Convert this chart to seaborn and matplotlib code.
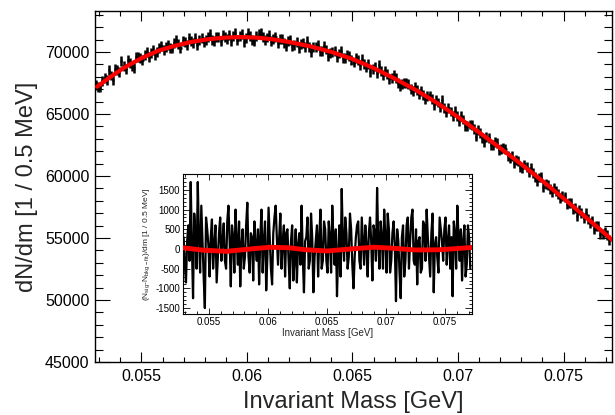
import numpy as np
import matplotlib
matplotlib.use("Agg")
import matplotlib.pyplot as plt
import seaborn as sns
from matplotlib.ticker import MultipleLocator, FuncFormatter

# histogram counts, bins of 0.1 MeV from 0.0528 to 0.0772 GeV
counts = [
    67305, 67185, 67150, 67645, 67910, 67720, 68545, 68100, 67740, 68610,
    68550, 68350, 69235, 68845, 68630, 69320, 69100, 68880, 68695, 69595,
    69585, 69530, 69335, 69755, 69985, 69625, 69910, 70160, 69725, 70020,
    70290, 70480, 70145, 70370, 70580, 70295, 70275, 70740, 70925, 70650,
    70285, 70870, 70805, 70530, 71130, 70880, 70705, 71115, 70565, 70960,
    71125, 70805, 70935, 71235, 71455, 70990, 70870, 71240, 71220, 70850,
    71395, 71195, 71060, 71345, 70860, 71285, 71540, 70985, 71270, 71440,
    70825, 71110, 71540, 71275, 70985, 70840, 71290, 71410, 71495, 71195,
    70935, 71165, 71355, 70845, 71070, 71180, 70700, 71055, 71060, 70755,
    70480, 70870, 70975, 70450, 70590, 70835, 70325, 70625, 70695, 70380,
    70870, 70375, 70020, 70430, 70420, 70550, 70050, 70075, 70450, 70195,
    69660, 69925, 70015, 70100, 69585, 69875, 70065, 69485, 69495, 69790,
    69665, 69315, 69145, 69525, 69315, 68930, 69450, 69060, 68780, 69025,
    68355, 68660, 68825, 68285, 68980, 68430, 68170, 68470, 68245, 67845,
    67865, 68165, 67935, 67530, 67225, 67410, 67495, 67510, 67450, 67005,
    66845, 67200, 66895, 66580, 66830, 66555, 66170, 66450, 66490, 66180,
    65725, 66105, 65925, 65565, 66095, 65510, 65150, 65455, 65200, 64805,
    65215, 64850, 64415, 64815, 64555, 64050, 64030, 64150, 64135, 63805,
    63180, 63695, 63465, 63060, 62700, 63115, 63095, 62515, 62525, 62710,
    62655, 62075, 62190, 62270, 62210, 61625, 61460, 61645, 61025, 61280,
    61185, 60740, 60640, 60925, 60755, 60305, 60625, 60245, 59935, 59625,
    59875, 59915, 59075, 59355, 59285, 58970, 58690, 59040, 58795, 58550,
    58235, 58375, 58335, 57770, 57835, 57830, 57300, 57435, 56765, 57285,
    57035, 56575, 56990, 56565, 56210, 56345, 55745, 55950, 55945, 55345,
    55305, 55510, 55260, 54835,
]

# half height of the error bars
count_err = 400

# residuals (data - background fit) shown in the inset
residuals = [
    300, -400, -850, 200, 600, -300, 1700, 100, -1250, 900,
    400, -500, 1700, 300, -600, 1100, 200, -700, -1500, 800,
    500, 100, -700, 300, 750, -500, 100, 600, -850, -200,
    400, 800, -300, 200, 650, -300, -500, 700, 1100, 200,
    -950, 600, 300, -600, 1000, 200, -400, 700, -950, 100,
    500, -500, -200, 600, 1175, -200, -600, 400, 300, -800,
    700, 100, -300, 500, -900, 300, 1000, -600, 200, 700,
    -1050, -200, 1050, 300, -500, -900, 400, 800, 1100, 300,
    -400, 300, 900, -500, 200, 600, -700, 400, 500, -300,
    -1000, 200, 600, -800, -300, 500, -850, 100, 400, -400,
    1100, -200, -1100, 200, 300, 800, -500, -300, 900, 300,
    -1100, -200, 200, 600, -700, 300, 1000, -500, -300, 700,
    500, -300, -600, 700, 300, -600, 1100, 200, -400, 500,
    -1200, -100, 600, -700, 1525, 200, -300, 800, 400, -500,
    -200, 900, 500, -400, -1000, -200, 300, 600, 700, -300,
    -500, 800, 200, -400, 600, 100, -700, 400, 800, 200,
    -800, 600, 400, -300, 1550, 200, -500, 700, 300, -500,
    1000, 300, -600, 900, 500, -600, -300, 400, 700, 100,
    -1325, 500, 200, -600, -1250, 300, 600, -700, -300, 600,
    800, -500, 200, 800, 1000, -300, -400, 500, -900, 200,
    300, -600, -500, 700, 600, -300, 1000, 300, -200, -700,
    400, 900, -1100, 100, 300, -200, -600, 800, 500, 200,
    -300, 500, 800, -400, 200, 600, -500, 300, -1200, 700,
    400, -500, 1100, 300, -300, 500, -800, 200, 600, -700,
    -400, 600, 300, -500,
]

# background fit curve (red)
fit_mass = [0.0529, 0.0535, 0.0542, 0.0550, 0.0558, 0.0566, 0.0574, 0.0582,
            0.0589, 0.0597, 0.0605, 0.0613, 0.0620, 0.0630, 0.0640, 0.0650,
            0.0660, 0.0670, 0.0680, 0.0690, 0.0700, 0.0710, 0.0720, 0.0730,
            0.0740, 0.0750, 0.0760, 0.0770, 0.0773]
fit_vals = [67200, 67950, 68750, 69500, 70100, 70500, 70820, 71030,
            71150, 71200, 71150, 71000, 70800, 70450, 70000, 69430,
            68700, 67850, 66930, 65900, 64750, 63520, 62250, 60950,
            59600, 58200, 56750, 55300, 54850]

# fit to the residuals (red, inset)
rfit_mass = [0.0528, 0.0545, 0.0565, 0.0585, 0.0602, 0.0618, 0.0632, 0.0650,
             0.0670, 0.0690, 0.0705, 0.0725, 0.0745, 0.0760, 0.0773]
rfit_vals = [30, -30, -60, 0, 45, 30, -20, -50, 0, 45, 20, -25, -20, 10, 40]

mass = np.linspace(0.05285, 0.07715, len(counts))

sns.set_style("ticks")
plt.rcParams['font.family'] = ['Liberation Sans', 'DejaVu Sans']
plt.rcParams['axes.unicode_minus'] = False
plt.rcParams['mathtext.fontset'] = 'custom'
plt.rcParams['mathtext.rm'] = 'Liberation Sans'

fig = plt.figure(figsize=(6.15, 4.15), dpi=100)
ax = fig.add_axes([0.1545, 0.1277, 0.8407, 0.8458])

ax.errorbar(mass, counts, xerr=0.00005, yerr=count_err, fmt='none',
            ecolor='black', elinewidth=1.8, capsize=0, zorder=2)
sns.lineplot(x=fit_mass, y=fit_vals, color='red', linewidth=3, ax=ax, zorder=3)

ax.set_xlim(0.0528, 0.0773)
ax.set_ylim(45000, 73300)
ax.xaxis.set_major_locator(MultipleLocator(0.005))
ax.xaxis.set_minor_locator(MultipleLocator(0.001))
ax.yaxis.set_major_locator(MultipleLocator(5000))
ax.yaxis.set_minor_locator(MultipleLocator(1000))
fmt = FuncFormatter(lambda v, p: f"{v:g}")
ax.xaxis.set_major_formatter(fmt)
ax.yaxis.set_major_formatter(fmt)
ax.tick_params(which='both', direction='in', top=True, right=True,
               width=0.8, labelsize=11.5, colors='black')
ax.tick_params(axis='x', which='major', length=7, pad=5)
ax.tick_params(axis='x', which='minor', length=3.5)
ax.tick_params(axis='y', which='major', length=10.5, pad=4)
ax.tick_params(axis='y', which='minor', length=5.5)
for s in ax.spines.values():
    s.set_linewidth(1.0)
    s.set_color('black')
ax.set_xlabel("Invariant Mass [GeV]", fontsize=17, labelpad=5)
ax.set_ylabel("dN/dm [1 / 0.5 MeV]", fontsize=17, labelpad=5)

# inset with residuals
axin = fig.add_axes([0.2976, 0.2434, 0.470, 0.337])
axin.set_facecolor('white')
sns.lineplot(x=mass, y=residuals, color='black', linewidth=1.6, ax=axin, zorder=2)
sns.lineplot(x=rfit_mass, y=rfit_vals, color='red', linewidth=3.5, ax=axin, zorder=3)
axin.set_xlim(0.0528, 0.0773)
axin.set_ylim(-1650, 1900)
axin.xaxis.set_major_locator(MultipleLocator(0.005))
axin.xaxis.set_minor_locator(MultipleLocator(0.001))
axin.yaxis.set_major_locator(MultipleLocator(500))
axin.yaxis.set_minor_locator(MultipleLocator(100))
axin.xaxis.set_major_formatter(fmt)
axin.yaxis.set_major_formatter(fmt)
axin.tick_params(which='both', direction='in', top=True, right=True,
                 width=0.6, labelsize=7, pad=2, colors='black')
axin.tick_params(axis='x', which='major', length=4)
axin.tick_params(axis='x', which='minor', length=2)
axin.tick_params(axis='y', which='major', length=5)
axin.tick_params(axis='y', which='minor', length=2.5)
for s in axin.spines.values():
    s.set_linewidth(0.8)
    s.set_color('black')
axin.set_xlabel("Invariant Mass [GeV]", fontsize=7, labelpad=1)
axin.set_ylabel(r"(N$_{\mathregular{sig}}$-N$_{\mathregular{bkg-fit}}$)/dm [1 / 0.5 MeV]",
                fontsize=6, labelpad=2)

fig.savefig("out.png", dpi=100)
